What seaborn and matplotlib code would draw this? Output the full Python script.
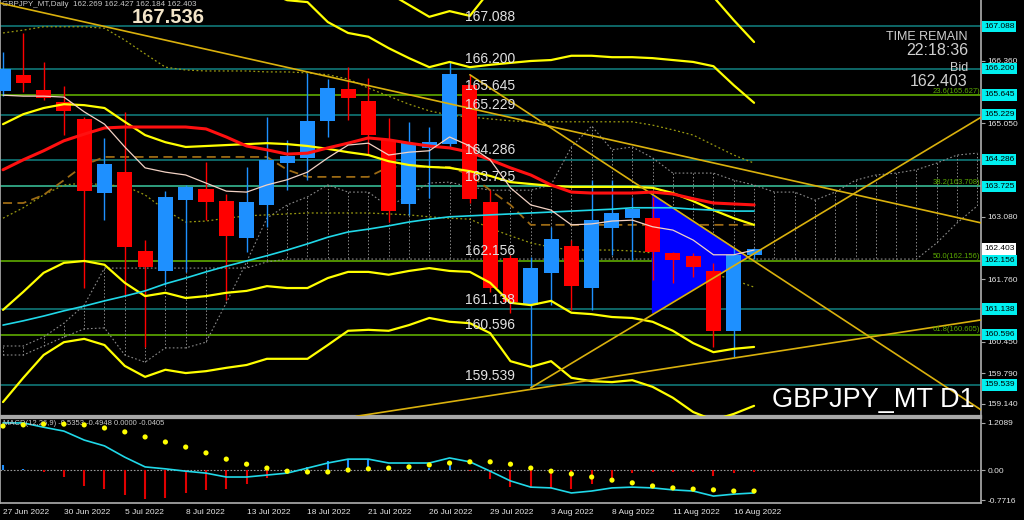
import numpy as np
import pandas as pd
import seaborn as sns
import matplotlib.pyplot as plt
from matplotlib import transforms

# daily bars 27 Jun - 17 Aug 2022, the last one is the live bar
dates = pd.bdate_range('2022-06-27', '2022-08-17')
bars = list(range(len(dates)))

opens = [165.73, 166.07, 165.75, 165.50, 165.14, 163.58, 164.02, 162.36, 161.94, 163.43,
         163.67, 163.41, 162.63, 163.33, 164.21, 164.32, 165.10, 165.77, 165.52, 164.70,
         163.35, 164.53, 164.61, 165.85, 163.39, 162.21, 161.22, 161.90, 162.47, 161.58,
         162.84, 163.05, 163.05, 162.32, 162.25, 161.94, 160.68, 162.269]
highs = [166.55, 166.95, 166.34, 165.83, 165.18, 164.74, 165.29, 162.59, 163.62, 163.75,
         164.23, 163.56, 164.13, 165.18, 164.70, 166.11, 165.98, 166.23, 166.00, 165.16,
         165.08, 164.97, 166.34, 166.07, 163.64, 162.28, 162.23, 162.87, 162.59, 163.85,
         163.85, 163.50, 163.50, 162.34, 162.32, 162.11, 162.42, 162.427]
lows = [165.62, 165.71, 165.54, 164.80, 161.58, 163.01, 161.43, 160.34, 161.64, 161.92,
        163.01, 161.33, 162.34, 162.87, 163.64, 163.85, 164.76, 165.12, 164.38, 162.97,
        163.12, 163.48, 164.53, 163.37, 161.50, 161.05, 159.48, 161.22, 161.12, 161.12,
        162.28, 162.17, 161.75, 161.69, 161.81, 160.34, 160.13, 162.184]
closes = [166.19, 165.90, 165.58, 165.31, 163.62, 164.19, 162.44, 162.02, 163.50, 163.71,
          163.39, 162.68, 163.39, 164.28, 164.36, 165.10, 165.79, 165.58, 164.80, 163.20,
          164.63, 164.65, 166.09, 163.45, 161.58, 161.29, 162.00, 162.61, 161.62, 163.01,
          163.16, 163.24, 162.34, 162.17, 162.02, 160.68, 162.27, 162.403]

# moving averages
ma_red = [164.07, 164.28, 164.47, 164.68, 164.82, 164.95, 164.97, 164.97, 164.97, 164.97,
          164.93, 164.76, 164.57, 164.49, 164.40, 164.42, 164.53, 164.63, 164.74, 164.70,
          164.63, 164.57, 164.53, 164.44, 164.28, 164.11, 163.96, 163.75, 163.60, 163.58,
          163.58, 163.58, 163.60, 163.56, 163.46, 163.37, 163.35, 163.33]
ma_fast = [165.64, 165.62, 165.62, 165.60, 165.29, 165.03, 164.55, 164.11, 164.02, 163.96,
           163.79, 163.62, 163.60, 163.75, 163.86, 164.02, 164.32, 164.59, 164.63, 164.38,
           164.44, 164.47, 164.76, 164.57, 164.28, 163.69, 163.33, 163.22, 162.91, 162.93,
           162.99, 163.01, 162.87, 162.80, 162.59, 162.28, 162.28, 162.38]
ma_slow = [160.80, 160.89, 160.99, 161.10, 161.20, 161.31, 161.41, 161.52, 161.67, 161.79,
           161.92, 162.04, 162.15, 162.26, 162.38, 162.51, 162.65, 162.76, 162.82, 162.89,
           162.97, 163.03, 163.08, 163.10, 163.12, 163.14, 163.16, 163.18, 163.20, 163.22,
           163.24, 163.27, 163.27, 163.27, 163.24, 163.22, 163.20, 163.20]

# yellow envelope lines
nan = np.nan
band_a = [nan] * 18 + [168.10, 167.79, 167.54, 167.29, 167.41, 167.31, 167.85, 168.10, 168.30, 168.40,
                       168.40, 168.40, 168.30, 168.20, 168.10, 168.00, 167.90, 167.71, 167.22, 166.76]
band_b = [nan] * 12 + [168.00, 167.81, 167.64, 167.60, 167.18, 166.95, 166.87, 166.63, 166.42, 166.23,
                       166.34, 166.23, 166.28, 166.32, 166.36, 166.38, 166.47, 166.47, 166.44, 166.44,
                       166.42, 166.38, 166.34, 166.25, 165.85, 165.48]
band_c = [165.03, 165.24, 165.37, 165.45, 165.43, 165.37, 165.08, 164.80, 164.65, 164.55,
          164.57, 164.59, 164.61, 164.63, 164.61, 164.57, 164.51, 164.44, 164.38, 164.25,
          164.17, 164.13, 164.11, 164.04, 163.94, 163.81, 163.77, 163.73, 163.71, 163.71,
          163.71, 163.71, 163.69, 163.58, 163.41, 163.22, 163.05, 162.91]
band_d = [161.12, 161.50, 161.90, 162.11, 162.15, 162.07, 161.69, 161.41, 161.48, 161.37,
          161.41, 161.48, 161.52, 161.62, 161.58, 161.58, 161.79, 161.92, 161.92, 161.86,
          161.94, 162.00, 161.94, 161.92, 161.69, 161.27, 161.22, 161.31, 161.06, 161.03,
          160.97, 160.95, 160.87, 160.68, 160.42, 160.23, 160.30, 160.34]
band_e = [159.18, 159.69, 160.17, 160.44, 160.51, 160.38, 159.94, 159.71, 159.86, 159.79,
          159.83, 159.90, 159.96, 160.09, 160.09, 160.09, 160.38, 160.68, 160.70, 160.68,
          160.80, 160.95, 160.87, 160.84, 160.63, 160.04, 159.92, 160.04, 159.69, 159.62,
          159.60, 159.64, 159.50, 159.27, 158.97, 158.80, 158.93, 159.10]

# dotted olive lines and dashed brown line
olive_1 = [166.95, 167.01, 167.08, 167.08, 167.08, 167.05, 166.80, 166.51, 166.23, 166.17,
           166.15, 166.15, 166.15, 166.13, 166.13, 166.11, 166.07, 165.98, 165.79, 165.62,
           165.45, 165.31, 165.22, 165.18, 165.14, 165.10, 165.08, 165.08, 165.08, 165.08,
           165.08, 165.08, 165.01, 164.91, 164.80, 164.59, 164.38, 164.21]
olive_2 = [163.05, 163.27, 163.54, 163.75, 163.79, 163.75, 163.73, 163.54, 163.22, 162.97,
           162.99, 163.05, 163.10, 163.12, 163.14, 163.16, 163.16, 163.16, 163.16, 163.14,
           163.12, 163.08, 163.05, 163.03, 162.84, 162.68, 162.53, 162.44, 162.38, 162.38,
           162.38, 162.36, 162.32, 162.17, 162.02, 161.88, 161.75, 161.60]
kijun = [163.37, 163.37, 163.54, 163.85, 164.17, 164.34, 164.34, 164.34, 164.34, 164.34,
         164.34, 164.34, 164.34, 164.34, 164.07, 163.92, 163.92, 163.92, 163.92, 164.13,
         164.13, 164.13, 164.13, 163.96, 163.64, 163.33, 162.91, 162.91, 162.91, 162.91,
         162.91, 162.91, 162.91, 162.91, 162.91, 162.91, 162.91, 162.91]

# cloud, shifted 11 bars past the last candle
cloud_bars = list(range(49))
span_a = [160.17, 160.17, 160.36, 160.55, 160.72, 160.74, 160.17, 160.02, 160.32, 160.32,
          160.44, 161.27, 162.13, 163.05, 163.33, 163.50, 163.75, 163.60, 163.60, 163.29,
          163.54, 163.79, 163.81, 163.71, 163.64, 163.64, 163.64, 163.75, 164.55, 164.99,
          164.49, 164.55, 164.32, 164.00, 164.00, 164.00, 163.85, 163.75, 163.60, 163.60,
          163.43, 163.60, 163.85, 163.96, 164.00, 164.07, 164.21, 164.38, 164.42]
span_b = [160.36, 160.36, 160.55, 160.84, 161.22, 162.00, 162.00, 162.00, 162.00, 162.00,
          162.00, 162.00, 162.00, 162.13, 162.19, 162.19, 162.19, 162.19, 162.19, 162.19,
          162.19, 162.19, 162.19, 162.19, 162.19, 162.19, 162.19, 162.19, 162.19, 162.19,
          162.19, 162.19, 162.19, 162.19, 162.19, 162.19, 162.19, 162.19, 162.19, 162.19,
          162.19, 162.19, 162.19, 162.19, 162.19, 162.19, 162.53, 162.95, 163.31]

# trend lines (bar, price) start / end
trend_x = [[-0.15, 48.2], [23, 48.2], [26, 48.2], [17.4, 48.2]]
trend_y = [[167.58, 162.95], [166.07, 159.01], [159.48, 165.18], [158.88, 160.91]]
tri_x = [32, 32, 36.65]
tri_y = [163.54, 161.05, 162.24]

# horizontal levels
level_prices = [167.088, 166.200, 165.645, 165.229, 164.286, 163.725, 162.156, 161.138, 160.596, 159.539]
level_kind = ['teal', 'teal', 'green', 'teal', 'teal', 'mint', 'green', 'teal', 'green', 'teal']
fib_pcts = ['23.6', '38.2', '50.0', '61.8']
fib_prices = [165.627, 163.708, 162.156, 160.605]
axis_prices = [166.360, 165.050, 163.080, 161.760, 160.450, 159.790, 159.140]

# MACD panel
macd_line = [1.21, 1.21, 1.10, 1.00, 0.77, 0.62, 0.33, 0.08, 0.03, -0.03,
             -0.08, -0.18, -0.18, -0.13, -0.08, 0.05, 0.18, 0.28, 0.28, 0.18,
             0.18, 0.18, 0.31, 0.21, -0.03, -0.28, -0.44, -0.46, -0.59, -0.54,
             -0.46, -0.44, -0.46, -0.51, -0.54, -0.67, -0.62, -0.59]
macd_dots = [1.13, 1.16, 1.18, 1.18, 1.16, 1.08, 0.98, 0.85, 0.72, 0.59,
             0.44, 0.28, 0.15, 0.05, -0.03, -0.05, -0.05, 0.00, 0.03, 0.05,
             0.08, 0.13, 0.18, 0.21, 0.21, 0.15, 0.05, -0.03, -0.10, -0.18,
             -0.26, -0.33, -0.41, -0.46, -0.49, -0.51, -0.54, -0.54]
macd_hist = [0.13, 0.03, -0.05, -0.18, -0.41, -0.49, -0.64, -0.75, -0.72, -0.59,
             -0.51, -0.49, -0.36, -0.20, -0.05, 0.09, 0.23, 0.28, 0.28, 0.10,
             0.12, 0.06, 0.21, -0.03, -0.23, -0.43, -0.47, -0.47, -0.49, -0.37,
             -0.31, -0.08, -0.06, -0.04, -0.05, -0.15, -0.08, -0.04]

BULL, BEAR = '#1e90ff', '#ff0000'
YEL, GOLD = '#ffff00', '#dab10d'
FRAME = '#a8a8a8'
level_colors = {'teal': '#128282', 'green': '#66b800', 'mint': '#3cc8a0'}

sns.set_theme(style='dark', rc={'axes.facecolor': 'black', 'figure.facecolor': 'black',
                                'axes.grid': False, 'axes.edgecolor': FRAME})
plt.rcParams['font.family'] = ['Liberation Sans', 'DejaVu Sans']

fig = plt.figure(figsize=(10.24, 5.2), dpi=100)
ax = fig.add_axes([0, 1 - 416 / 520, 981 / 1024, 416 / 520])
ax2 = fig.add_axes([0, 1 - 503 / 520, 981 / 1024, 85 / 520])
xlim = (-0.148, 48.18)

# ---- price panel ----
for p, k in zip(level_prices, level_kind):
    ax.axhline(p, color=level_colors[k], lw=1.1, zorder=1)

ax.vlines(cloud_bars, span_a, span_b, colors='#8a8a8a', lw=0.7, linestyles=(0, (1.5, 2)), zorder=1)
for span in (span_a, span_b):
    ax.plot(cloud_bars, span, color='#8a8a8a', lw=0.8, ls=(0, (1.5, 2)), zorder=1)
for ol in (olive_1, olive_2):
    ax.plot(bars, ol, color='#9a9a10', lw=0.9, ls=(0, (1.5, 2)), zorder=1)
ax.plot(bars, kijun, color='#9c6a14', lw=1.3, ls=(0, (5, 3)), zorder=1)

ax.fill(tri_x, tri_y, color='#0000ff', zorder=2)

# candles
col = [BULL if c >= o else BEAR for o, c in zip(opens, closes)]
ax.vlines(bars, lows, highs, colors=col, lw=1.0, zorder=3)
body_lo = [min(o, c) for o, c in zip(opens, closes)]
body_h = [max(abs(c - o), 0.02) for o, c in zip(opens, closes)]
ax.bar(bars, body_h, bottom=body_lo, width=0.74, color=col, linewidth=0, zorder=4)

for band in (band_a, band_b, band_c, band_d, band_e):
    sns.lineplot(x=bars, y=band, ax=ax, color=YEL, lw=1.6, errorbar=None, legend=False, zorder=5)
for tx, ty in zip(trend_x, trend_y):
    sns.lineplot(x=tx, y=ty, ax=ax, color=GOLD, lw=1.2, errorbar=None, legend=False, zorder=5)
sns.lineplot(x=bars, y=ma_slow, ax=ax, color='#20d8e8', lw=1.2, errorbar=None, legend=False, zorder=6)
sns.lineplot(x=bars, y=ma_red, ax=ax, color='#ff1010', lw=2.2, errorbar=None, legend=False, zorder=6)
sns.lineplot(x=bars, y=ma_fast, ax=ax, color='#f2d2c4', lw=0.9, errorbar=None, legend=False, zorder=7)

ax.set_xlim(*xlim)
ax.set_ylim(158.886, 167.644)
ax.set_xticks([])
ax.yaxis.tick_right()
ax.set_yticks(axis_prices)
ax.set_yticklabels([f'{p:.3f}' for p in axis_prices])
ax.tick_params(axis='y', length=3, width=0.8, color=FRAME, labelsize=6, labelcolor='#e6e6e6', pad=1.5)
ax.set_xlabel('')
ax.set_ylabel('')
for s in ('left', 'right', 'bottom'):
    ax.spines[s].set_color(FRAME)
ax.spines['top'].set_visible(False)
ax.spines['bottom'].set_linewidth(1.6)

# level captions inside the chart and boxes on the price scale
mixed = transforms.blended_transform_factory(ax.transAxes, ax.transData)
for p in level_prices:
    ax.text(22.76, p + 0.05, f'{p:.3f}', color='#e2e2e2', fontsize=10, va='bottom', ha='left', zorder=9)
    ax.text(1.003, p, f'{p:.3f}', transform=mixed, color='black', fontsize=6, va='center', ha='left',
            clip_on=False, zorder=10,
            bbox=dict(boxstyle='square,pad=0.25', facecolor='#00f0f0', edgecolor='none'))
ax.text(1.003, closes[-1], f'{closes[-1]:.3f}', transform=mixed, color='black', fontsize=6,
        va='center', ha='left', clip_on=False, zorder=10,
        bbox=dict(boxstyle='square,pad=0.25', facecolor='white', edgecolor='none'))
for pct, p in zip(fib_pcts, fib_prices):
    ax.text(0.999, p + 0.02, f'{pct}({p:.3f})', transform=mixed, color='#5aa800', fontsize=5.5,
            va='bottom', ha='right', zorder=9)

ax.text(0.002, 0.990, f'GBPJPY_MT,Daily  {opens[-1]:.3f} {highs[-1]:.3f} {lows[-1]:.3f} {closes[-1]:.3f}',
        transform=ax.transAxes, color='#c8c8c8', fontsize=5.8, va='center', ha='left')
ax.text(0.171, 0.958, '167.536', transform=ax.transAxes, color='#f3e5c9', fontsize=14.5,
        fontweight='bold', va='center', ha='center')

# info block on the right
ax.text(0.9867, 0.912, 'TIME REMAIN', transform=ax.transAxes, color='#d0d0d0', fontsize=9,
        va='center', ha='right')
ax.text(0.9867, 0.879, '22:18:36', transform=ax.transAxes, color='#d0d0d0', fontsize=11.5,
        va='center', ha='right')
ax.text(0.9867, 0.836, 'Bid', transform=ax.transAxes, color='#d0d0d0', fontsize=9,
        va='center', ha='right')
ax.text(0.9867, 0.803, f'{closes[-1]:.3f}', transform=ax.transAxes, color='#d0d0d0', fontsize=11.5,
        va='center', ha='right')
ax.text(0.994, 0.038, 'GBPJPY_MT D1', transform=ax.transAxes, color='white', fontsize=19.5,
        va='center', ha='right', zorder=9)

# ---- MACD panel ----
ax2.axhline(0, color='#9a9a9a', lw=0.8, ls=(0, (1.5, 1.5)), zorder=1)
hcol = [BULL if h >= 0 else '#e00000' for h in macd_hist]
ax2.vlines(bars, 0, macd_hist, colors=hcol, lw=1.5, zorder=2)
sns.lineplot(x=bars, y=macd_line, ax=ax2, color='#20d8e8', lw=1.2, errorbar=None, legend=False, zorder=3)
sns.scatterplot(x=bars, y=macd_dots, ax=ax2, color='#ffff00', s=14, edgecolor='none', legend=False, zorder=4)

ax2.set_xlim(*xlim)
ax2.set_ylim(-0.848, 1.337)
ax2.yaxis.tick_right()
ax2.set_yticks([1.2089, 0.0, -0.7716])
ax2.set_yticklabels(['1.2089', '0.00', '-0.7716'])
ax2.tick_params(axis='y', length=3, width=0.8, color=FRAME, labelsize=6, labelcolor='#e6e6e6', pad=1.5)
ax2.set_xticks(bars[::3])
ax2.set_xticklabels([f'{d.day} {d:%b %Y}' for d in dates[::3]], ha='left')
ax2.tick_params(axis='x', length=3, width=0.8, color=FRAME, labelsize=6, labelcolor='#e6e6e6', pad=1.5)
ax2.set_xlabel('')
ax2.set_ylabel('')
for s in ('left', 'right', 'bottom', 'top'):
    ax2.spines[s].set_color(FRAME)
ax2.spines['top'].set_linewidth(1.6)
ax2.text(0.003, 0.93, 'MACD(12,26,9) -0.5353 -0.4948 0.0000 -0.0405', transform=ax2.transAxes,
         color='#c8c8c8', fontsize=5.5, va='center', ha='left')

fig.savefig('out.png', dpi=100, facecolor='black')
